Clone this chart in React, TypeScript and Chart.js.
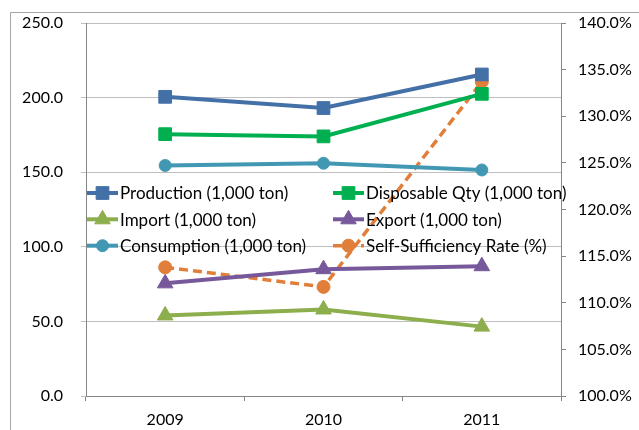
import React, { useEffect, useRef } from "react";
import { Chart, registerables } from "chart.js";

Chart.register(...registerables);

const years = ["2009", "2010", "2011"];
const production = [200.5, 193.0, 215.5];
const disposable = [175.5, 174.0, 202.5];
const imports = [54.0, 58.0, 46.5];
const exportsQty = [75.5, 85.0, 87.0];
const consumption = [154.5, 156.0, 151.5];
const selfSufficiency = [113.8, 111.7, 133.7];

const FONT = "Lato, 'Open Sans', sans-serif";

type Marker = "rect" | "triangle" | "circle";

function drawMarker(ctx: CanvasRenderingContext2D, style: Marker, x: number, y: number, r: number, color: string) {
  ctx.save();
  ctx.fillStyle = color;
  ctx.strokeStyle = color;
  ctx.lineWidth = 1;
  ctx.setLineDash([]);
  ctx.beginPath();
  if (style === "rect") {
    const s = Math.SQRT1_2 * r;
    ctx.rect(x - s, y - s, 2 * s, 2 * s);
  } else if (style === "triangle") {
    for (let i = 0; i < 3; i++) {
      const a = (i * 2 * Math.PI) / 3;
      const px = x + Math.sin(a) * r;
      const py = y - Math.cos(a) * r;
      if (i === 0) ctx.moveTo(px, py);
      else ctx.lineTo(px, py);
    }
    ctx.closePath();
  } else {
    ctx.arc(x, y, r, 0, Math.PI * 2);
  }
  ctx.fill();
  ctx.stroke();
  ctx.restore();
}

// Frame around the whole chart (only top and left edges fall inside the canvas)
const framePlugin = {
  id: "frame",
  beforeDraw(chart: any) {
    const ctx = chart.ctx as CanvasRenderingContext2D;
    ctx.save();
    ctx.strokeStyle = "#A6A6A6";
    ctx.lineWidth = 1;
    ctx.beginPath();
    ctx.moveTo(10.5, chart.height + 5);
    ctx.lineTo(10.5, 12.5);
    ctx.lineTo(chart.width + 5, 12.5);
    ctx.stroke();
    ctx.restore();
  },
};

// Two-column legend laid over the plot area
const insideLegendPlugin = {
  id: "insideLegend",
  afterDatasetsDraw(chart: any) {
    const ctx = chart.ctx as CanvasRenderingContext2D;
    const area = chart.chartArea;
    const colX = [area.left + 1, area.left + 247];
    const rowY = [193, 219.3, 245.7];
    chart.data.datasets.forEach((ds: any, i: number) => {
      const col = i % 2;
      const row = Math.floor(i / 2);
      const x0 = colX[col];
      const y = rowY[row];
      const x1 = x0 + 31;
      ctx.save();
      ctx.strokeStyle = ds.borderColor;
      ctx.lineWidth = ds.borderWidth;
      ctx.setLineDash(ds.borderDash || []);
      ctx.beginPath();
      ctx.moveTo(x0, y);
      ctx.lineTo(x1, y);
      ctx.stroke();
      ctx.restore();
      drawMarker(ctx, ds.pointStyle, (x0 + x1) / 2, y, ds.pointRadius, ds.borderColor);
      ctx.save();
      ctx.fillStyle = "#000000";
      ctx.font = `17px ${FONT}`;
      ctx.textBaseline = "middle";
      ctx.textAlign = "left";
      ctx.fillText(ds.label, x1 + 2, y + 1);
      ctx.restore();
    });
  },
};

function series(label: string, data: number[], color: string, style: Marker, radius: number, extra: any = {}) {
  return {
    label,
    data,
    borderColor: color,
    backgroundColor: color,
    pointBackgroundColor: color,
    pointBorderColor: color,
    borderWidth: 4,
    pointStyle: style,
    pointRadius: radius,
    pointHoverRadius: radius,
    pointBorderWidth: 1,
    tension: 0,
    yAxisID: "y",
    ...extra,
  };
}

// Fixed axis sizes; the value axes add no extra padding above or below the plot
function fixVertical(width: number) {
  return (scale: any) => {
    scale.width = width;
    scale.paddingTop = 0;
    scale.paddingBottom = 0;
  };
}

export default function App() {
  const ref = useRef<HTMLCanvasElement | null>(null);

  useEffect(() => {
    if (!ref.current) return;
    const chart = new Chart(ref.current, {
      type: "line",
      data: {
        labels: years,
        datasets: [
          series("Production (1,000 ton)", production, "#4470A8", "rect", 9),
          series("Disposable Qty (1,000 ton)", disposable, "#00B050", "rect", 9),
          series("Import (1,000 ton)", imports, "#8DAE4C", "triangle", 9),
          series("Export (1,000 ton)", exportsQty, "#77599B", "triangle", 9),
          series("Consumption (1,000 ton)", consumption, "#4298B3", "circle", 6),
          series("Self-Sufficiency Rate (%)", selfSufficiency, "#E07E3A", "circle", 6.5, {
            yAxisID: "y2",
            borderDash: [9, 5],
            borderWidth: 3.5,
          }),
        ] as any,
      },
      options: {
        responsive: false,
        animation: false,
        layout: { padding: { top: 23, left: 0, right: 0, bottom: 0 } },
        plugins: {
          legend: { display: false },
          tooltip: { enabled: false },
        },
        scales: {
          x: {
            offset: true,
            grid: {
              offset: true,
              drawOnChartArea: false,
              drawTicks: true,
              tickLength: 5,
              color: "#868686",
            },
            border: { color: "#868686", width: 1 },
            ticks: {
              color: "#000000",
              font: { family: FONT, size: 16 },
              padding: 9,
            },
            afterFit(scale: any) {
              scale.height = 34;
              scale.paddingLeft = 0;
              scale.paddingRight = 0;
            },
          },
          y: {
            position: "left",
            min: 0,
            max: 250,
            grid: { color: "#BFBFBF", tickLength: 5 },
            border: { color: "#868686", width: 1 },
            ticks: {
              stepSize: 50,
              color: "#000000",
              font: { family: FONT, size: 16 },
              padding: 18,
              callback: (v: any) => Number(v).toFixed(1),
            },
            afterFit: fixVertical(86),
          },
          y2: {
            position: "right",
            min: 100,
            max: 140,
            grid: { drawOnChartArea: false, tickLength: 5, color: "#868686" },
            border: { color: "#868686", width: 1 },
            ticks: {
              stepSize: 5,
              color: "#000000",
              font: { family: FONT, size: 16 },
              padding: 12,
              callback: (v: any) => Number(v).toFixed(1) + "%",
            },
            afterFit: fixVertical(78),
          },
        },
      } as any,
      plugins: [framePlugin, insideLegendPlugin],
    });
    return () => chart.destroy();
  }, []);

  return (
    <canvas
      ref={ref}
      width={639}
      height={430}
      style={{ position: "fixed", left: 0, top: 0, width: 639, height: 430, display: "block", background: "#ffffff" }}
    />
  );
}
